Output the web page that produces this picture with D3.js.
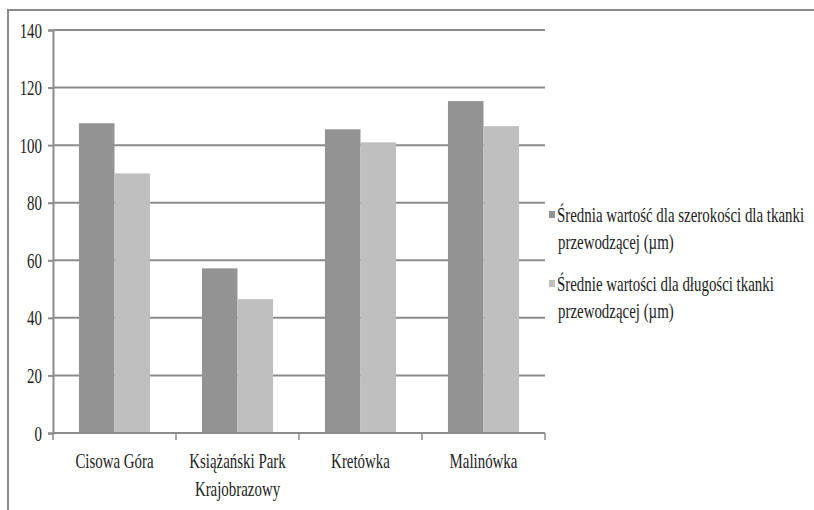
<!DOCTYPE html>
<html>
<head>
<meta charset="utf-8">
<script src="https://cdn.jsdelivr.net/npm/d3@7"></script>
<style>
  html, body { margin: 0; padding: 0; background: #fff; }
  svg { display: block; }
</style>
</head>
<body>
<svg id="chart" width="814" height="510"></svg>
<script>
// Sites and mean measurements of conducting tissue (µm)
const categories = [["Cisowa Góra"], ["Książański Park", "Krajobrazowy"], ["Kretówka"], ["Malinówka"]];
const seriesNames = [
  ["Średnia wartość dla szerokości dla tkanki", "przewodzącej (µm)"],
  ["Średnie wartości dla długości tkanki", "przewodzącej (µm)"]
];
const widthValues = [107.6, 57.2, 105.5, 115.3];
const lengthValues = [90.2, 46.5, 101.0, 106.6];
const yTicks = [0, 20, 40, 60, 80, 100, 120, 140];

const colors = ["#939393", "#bfbfbf"];
const gridColor = "#8c8c8c";
const fontFamily = "Liberation Serif";
const fontSize = 21, squeeze = 0.71;

const svg = d3.select("#chart");
const plot = { left: 53, right: 545, top: 30, bottom: 433 };

function styleText(sel) {
  return sel.style("font-family", fontFamily)
    .style("font-size", fontSize + "px")
    .attr("fill", "#222");
}

// outer frame (runs off the right and bottom edges)
svg.append("path")
  .attr("d", "M8,520 L8,10 L830,10")
  .attr("fill", "none").attr("stroke", "#8a8a8a").attr("stroke-width", 2);

const keys = categories.map(c => c.join(" "));
const x = d3.scaleBand().domain(keys).range([plot.left, plot.right]).paddingInner(0).paddingOuter(0);
const inner = d3.scaleBand().domain([0, 1]).range([0, x.bandwidth()]).paddingOuter(0.73).paddingInner(0);
const y = d3.scaleLinear().domain([0, 140]).range([plot.bottom, plot.top]);

// horizontal gridlines
svg.append("g").selectAll("line").data(yTicks.filter(d => d > 0)).join("line")
  .attr("x1", plot.left).attr("x2", plot.right)
  .attr("y1", d => y(d)).attr("y2", d => y(d))
  .attr("stroke", gridColor).attr("stroke-width", 2);

// bars
const rows = keys.map((k, i) => ({ key: k, vals: [widthValues[i], lengthValues[i]] }));
const groups = svg.append("g").selectAll("g").data(rows).join("g")
  .attr("transform", d => `translate(${x(d.key)},0)`);
groups.selectAll("rect").data(d => d.vals.map((v, s) => ({ v, s }))).join("rect")
  .attr("x", d => inner(d.s))
  .attr("width", inner.bandwidth())
  .attr("y", d => y(d.v))
  .attr("height", d => y(0) - y(d.v))
  .attr("fill", d => colors[d.s]);

// y axis
const yAxis = svg.append("g").attr("transform", `translate(${plot.left},0)`)
  .call(d3.axisLeft(y).tickValues(yTicks).tickSize(5).tickPadding(0).tickFormat(d3.format("d")));
yAxis.select(".domain").attr("stroke", gridColor).attr("stroke-width", 2);
yAxis.selectAll(".tick line").attr("stroke", gridColor).attr("stroke-width", 2);
yAxis.selectAll(".tick text").remove();
yAxis.selectAll(".tick").append("text")
  .attr("transform", `translate(-11,7) scale(${squeeze},1)`)
  .attr("text-anchor", "end")
  .call(styleText)
  .text(d => d);

// x axis with boundary ticks
const xAxis = svg.append("g").attr("transform", `translate(0,${plot.bottom})`);
xAxis.append("line").attr("x1", plot.left).attr("x2", plot.right)
  .attr("stroke", gridColor).attr("stroke-width", 2);
const bounds = keys.map(k => x(k)).concat([plot.right]);
xAxis.selectAll("line.tk").data(bounds).join("line").attr("class", "tk")
  .attr("x1", d => d).attr("x2", d => d).attr("y1", 0).attr("y2", 7)
  .attr("stroke", gridColor).attr("stroke-width", 1.5);
const labels = xAxis.selectAll("g.lbl").data(categories).join("g").attr("class", "lbl")
  .attr("transform", (d, i) => `translate(${x(keys[i]) + x.bandwidth() / 2},0)`);
labels.selectAll("text").data(d => d).join("text")
  .attr("transform", (d, j) => `translate(0,${35 + j * 28}) scale(${squeeze},1)`)
  .attr("text-anchor", "middle")
  .call(styleText)
  .text(d => d);

// legend
const legend = svg.append("g").attr("transform", "translate(549,0)");
const items = legend.selectAll("g").data(seriesNames).join("g")
  .attr("transform", (d, i) => `translate(0,${215 + i * 69})`);
items.append("rect").attr("x", 0).attr("y", -4).attr("width", 6).attr("height", 7)
  .attr("fill", (d, i) => colors[i]);
items.selectAll("text").data(d => d).join("text")
  .attr("transform", (d, j) => `translate(${j === 0 ? 8 : 9},${7 + j * 27}) scale(${squeeze},1)`)
  .call(styleText)
  .text(d => d);
</script>
</body>
</html>
